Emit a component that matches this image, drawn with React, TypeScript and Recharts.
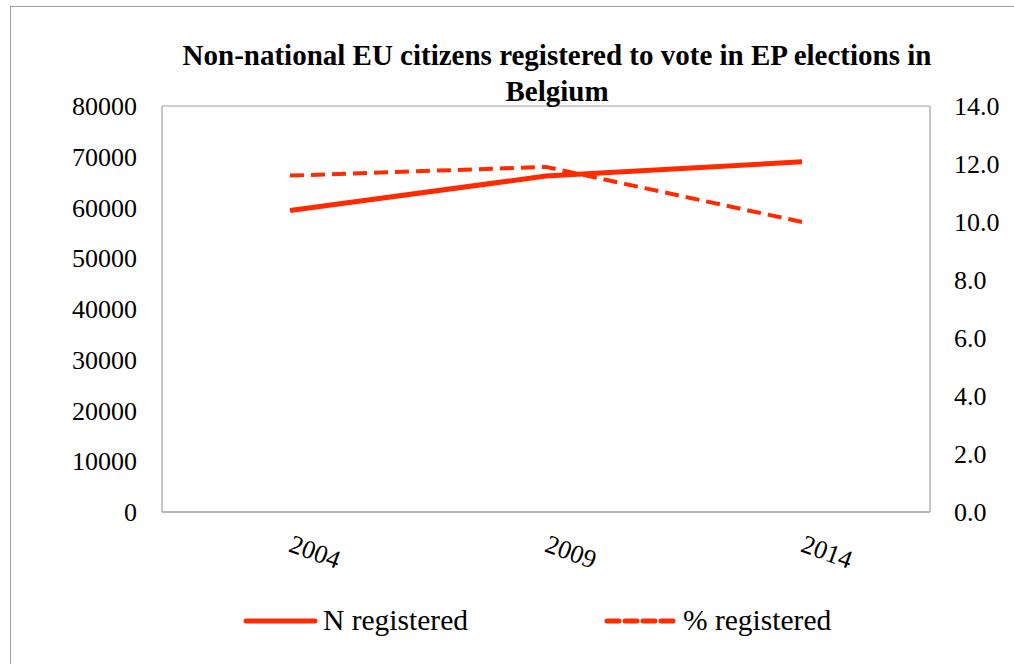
import { LineChart, Line, XAxis, YAxis, CartesianGrid } from "recharts";

const years = ["2004", "2009", "2014"];
const nRegistered = [59400, 66200, 69000];
const pctRegistered = [11.6, 11.9, 10.0];
const leftTicks = [0, 10000, 20000, 30000, 40000, 50000, 60000, 70000, 80000];
const rightTicks = [0, 2, 4, 6, 8, 10, 12, 14];

const RED = "#ff2a00";
const FONT = "'Liberation Serif', 'Times New Roman', serif";

const data = years.map((year, i) => ({
  year,
  n: nRegistered[i],
  pct: pctRegistered[i],
}));

function YearTick(props: any) {
  const { x, y, payload } = props;
  return (
    <text
      x={x + 22}
      y={y + 40}
      textAnchor="middle"
      fontSize={26}
      fontFamily={FONT}
      fill="#000"
      transform={`rotate(20, ${x + 22}, ${y + 40})`}
    >
      {payload.value}
    </text>
  );
}

function LegendBox() {
  return (
    <div style={{ position: "absolute", left: 0, top: 600, width: 1014, height: 40, fontFamily: FONT, fontSize: 29.5, lineHeight: "40px" }}>
      <svg width={80} height={20} style={{ position: "absolute", left: 243, top: 11 }}>
        <line x1={3} y1={10} x2={72} y2={10} stroke={RED} strokeWidth={5} strokeLinecap="round" />
      </svg>
      <span style={{ position: "absolute", left: 323, top: 0, color: "#000" }}>N registered</span>
      <svg width={80} height={20} style={{ position: "absolute", left: 604, top: 11 }}>
        <line x1={3} y1={10} x2={70} y2={10} stroke={RED} strokeWidth={5} strokeDasharray="12 6" strokeLinecap="round" />
      </svg>
      <span style={{ position: "absolute", left: 683, top: 0, color: "#000" }}>% registered</span>
    </div>
  );
}

export default function App() {
  return (
    <div style={{ position: "absolute", left: 0, top: 0, width: 1014, height: 664, background: "#fff", overflow: "hidden" }}>
      <div
        style={{
          position: "absolute",
          left: 10,
          top: 6,
          width: 1014,
          height: 670,
          border: "1.5px solid #a0a0a0",
          boxSizing: "border-box",
        }}
      />
      <LineChart
        width={1014}
        height={664}
        data={data}
        margin={{ top: 106, left: 82, right: 14, bottom: 92 }}
        style={{ position: "absolute", left: 0, top: 0 }}
      >
        <CartesianGrid stroke="#a0a0a0" strokeWidth={1.2} vertical={false} />
        <XAxis
          dataKey="year"
          xAxisId="x"
          height={60}
          padding={{ left: 128, right: 128 }}
          axisLine={{ stroke: "#a0a0a0", strokeWidth: 1.2 }}
          tickLine={false}
          tick={<YearTick />}
        />
        <YAxis
          yAxisId="left"
          width={80}
          domain={[0, 80000]}
          ticks={leftTicks}
          axisLine={{ stroke: "#a0a0a0", strokeWidth: 1.2 }}
          tickLine={false}
          tickSize={0}
          tickMargin={25}
          tick={{ fill: "#000", fontSize: 26, fontFamily: FONT }}
        />
        <YAxis
          yAxisId="right"
          orientation="right"
          width={70}
          domain={[0, 14]}
          ticks={rightTicks}
          axisLine={{ stroke: "#a0a0a0", strokeWidth: 1.2 }}
          tickLine={false}
          tickSize={0}
          tickMargin={24}
          tickFormatter={(v: number) => v.toFixed(1)}
          tick={{ fill: "#000", fontSize: 26, fontFamily: FONT, textAnchor: "start" }}
        />
        <Line
          xAxisId="x"
          yAxisId="left"
          dataKey="n"
          name="N registered"
          stroke={RED}
          strokeWidth={5}
          dot={false}
          type="linear"
          isAnimationActive={false}
        />
        <Line
          xAxisId="x"
          yAxisId="right"
          dataKey="pct"
          name="% registered"
          stroke={RED}
          strokeWidth={4}
          strokeDasharray="14 7"
          dot={false}
          type="linear"
          isAnimationActive={false}
        />
      </LineChart>
      <div
        style={{
          position: "absolute",
          left: 0,
          top: 37,
          width: 1114,
          textAlign: "center",
          fontFamily: FONT,
          fontWeight: "bold",
          fontSize: 29,
          lineHeight: "36px",
          color: "#000",
        }}
      >
        Non-national EU citizens registered to vote in EP elections in
        <br />
        Belgium
      </div>
      <LegendBox />
    </div>
  );
}
